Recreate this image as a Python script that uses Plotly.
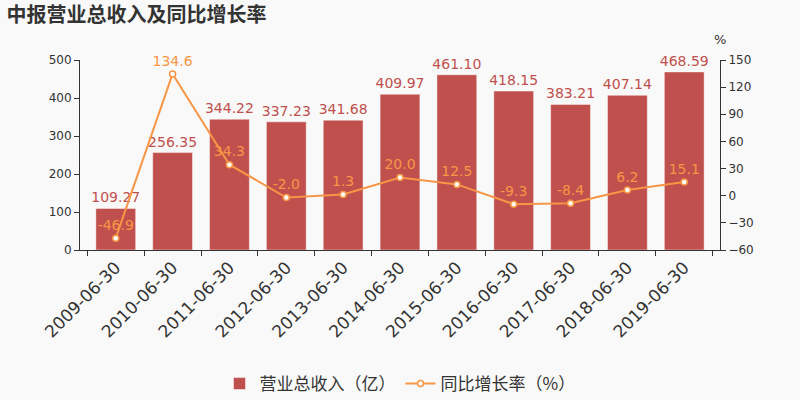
import plotly.graph_objects as go

categories = ["2009-06-30", "2010-06-30", "2011-06-30", "2012-06-30", "2013-06-30",
              "2014-06-30", "2015-06-30", "2016-06-30", "2017-06-30", "2018-06-30", "2019-06-30"]
revenue = [109.27, 256.35, 344.22, 337.23, 341.68, 409.97, 461.10, 418.15, 383.21, 407.14, 468.59]
growth = [-46.9, 134.6, 34.3, -2.0, 1.3, 20.0, 12.5, -9.3, -8.4, 6.2, 15.1]

bar_color = "#c0504d"
line_color = "#f79646"
font_family = "DejaVu Sans, Noto Sans CJK SC"

fig = go.Figure()
fig.add_trace(go.Bar(
    x=categories, y=revenue, name="营业总收入（亿）",
    marker=dict(color=bar_color, line=dict(color="rgba(255,255,255,0.45)", width=1)),
    text=[f"{v:.2f}" for v in revenue], textposition="outside",
    textfont=dict(color=bar_color, size=14, family=font_family),
    cliponaxis=False, constraintext="none",
))
fig.add_trace(go.Scatter(
    x=categories, y=growth, name="同比增长率（%）", yaxis="y2",
    mode="lines+markers+text",
    line=dict(color=line_color, width=2),
    marker=dict(size=6, color="white", line=dict(color=line_color, width=1.5)),
    text=[f"{v:.1f}" for v in growth], textposition="top center",
    textfont=dict(color=line_color, size=14, family=font_family),
    cliponaxis=False,
))

axis_common = dict(showline=True, linecolor="#333", linewidth=1, ticks="outside",
                   tickcolor="#333", ticklen=5, showgrid=False, zeroline=False,
                   automargin=False,
                   tickfont=dict(size=12, color="#333", family=font_family))

fig.update_layout(
    width=800, height=400,
    margin=dict(l=80, r=80, t=60, b=150, autoexpand=False),
    paper_bgcolor="#f9f9f9", plot_bgcolor="#f9f9f9",
    font=dict(family=font_family, color="#333"),
    title=dict(text="<b>中报营业总收入及同比增长率</b>", x=0.008, xanchor="left", y=0.9625, yanchor="middle",
               font=dict(size=20, color="#333", family="Noto Sans CJK SC")),
    xaxis=dict(type="category", showline=True, linecolor="#333", ticks="outside", tickson="boundaries",
               tickcolor="#333", ticklen=5, tickangle=-45, automargin=False, showgrid=False,
               tickfont=dict(size=17, color="#333", family=font_family)),
    yaxis=dict(range=[0, 500], dtick=100, **axis_common),
    yaxis2=dict(range=[-60, 150], dtick=30, overlaying="y", side="right", **axis_common),
    legend=dict(orientation="h", x=0.5, xanchor="center", y=-0.8, yanchor="bottom",
                font=dict(size=17, color="#333", family="Noto Sans CJK SC"),
                bgcolor="rgba(0,0,0,0)"),
    bargap=0.3,
    annotations=[dict(text="%", xref="paper", yref="paper", x=1.0, y=1.11, xanchor="center",
                      yanchor="middle", showarrow=False, font=dict(size=13, color="#333"))],
)

fig.write_html("out.html")
